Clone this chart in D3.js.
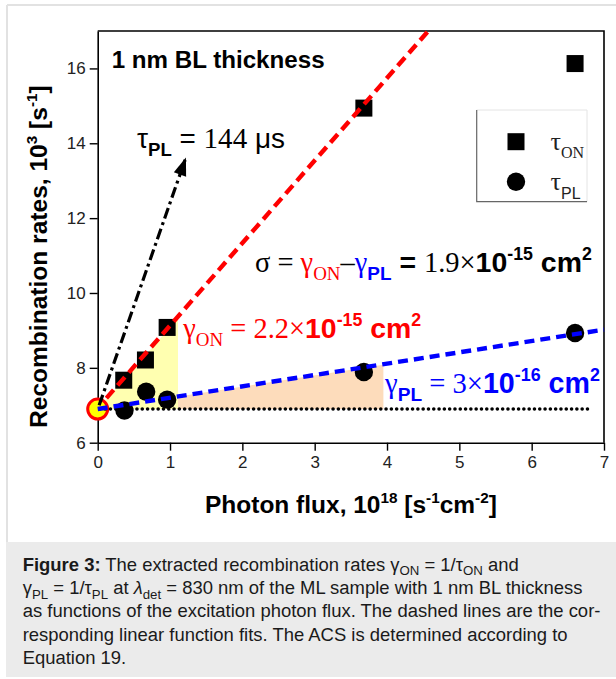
<!DOCTYPE html>
<html><head><meta charset="utf-8">
<script src="https://cdn.jsdelivr.net/npm/d3@7"></script>
<style>html,body{margin:0;padding:0;background:#fff;} svg{display:block}</style>
</head><body>
<svg id="c" width="616" height="679"></svg>
<script>
// ---- data ----
const xTicks = [0, 1, 2, 3, 4, 5, 6, 7];
const yTicks = [6, 8, 10, 12, 14, 16];
const fluxON = [0.36, 0.66, 0.96, 3.68, 6.60];
const rateON = [7.67, 8.21, 9.08, 14.94, 16.13];
const fluxPL = [0.37, 0.67, 0.96, 3.68, 6.60];
const ratePL = [6.86, 7.36, 7.15, 7.89, 8.93];
const originFlux = [0];
const originRate = [6.90];
const fitONx = [0.12, 4.57], fitONy = [7.19, 17.0];
const fitPLx = [0.0, 7.0], fitPLy = [6.90, 9.02];
const tangentX = [0.02, 1.22], tangentY = [7.0, 13.62];
const baseX = [0.03, 6.81], baseY = [6.90, 6.90];
const yellowX = [0, 1.11, 1.11], yellowY = [6.90, 9.32, 6.90];
const peachX = [0, 3.95, 3.95], peachY = [6.90, 8.08, 6.90];

const SANS = "'Liberation Sans', Arial, sans-serif";
const SERIF = "'Liberation Serif', 'Times New Roman', serif";
const RED = "#ff0000", BLUE = "#0000ff";

const svg = d3.select("#c");
const x = d3.scaleLinear([0, 7], [97.7, 604]);
const y = d3.scaleLinear([6, 17], [442.7, 31]);

// page frame & caption box
svg.append("line").attr("x1", 7).attr("y1", 5).attr("x2", 616).attr("y2", 5).attr("stroke", "#e2e2e2").attr("stroke-width", 2);
svg.append("line").attr("x1", 7).attr("y1", 5).attr("x2", 7).attr("y2", 542).attr("stroke", "#e2e2e2").attr("stroke-width", 2);
svg.append("rect").attr("x", 6).attr("y", 542).attr("width", 612).attr("height", 135).attr("fill", "#ebebeb");

const zip = (a, b) => a.map((v, i) => [v, b[i]]);

// fills
svg.append("path").attr("d", d3.line().x(d => x(d[0])).y(d => y(d[1]))(zip(peachX, peachY)) + "Z").attr("fill", "#fddcbb");
svg.append("path").attr("d", d3.line().x(d => x(d[0])).y(d => y(d[1]))(zip(yellowX, yellowY)) + "Z").attr("fill", "#ffffb0");

// axes
const gx = svg.append("g").attr("transform", `translate(0,${y(6)})`)
  .call(d3.axisBottom(x).tickValues(xTicks).tickFormat(d3.format("d")).tickSize(8).tickSizeOuter(0).tickPadding(5));
const gy = svg.append("g").attr("transform", `translate(${x(0)},0)`)
  .call(d3.axisLeft(y).tickValues(yTicks).tickFormat(d3.format("d")).tickSize(8).tickSizeOuter(0).tickPadding(4));
[gx, gy].forEach(g => {
  g.select(".domain").attr("stroke", "#000").attr("stroke-width", 1.6);
  g.selectAll(".tick line").attr("stroke", "#000").attr("stroke-width", 1.4);
  g.selectAll(".tick text").attr("font-family", SANS).attr("font-size", 17).attr("fill", "#222");
});
// frame top/right
svg.append("path").attr("d", `M${x(0)},${y(17)}H${x(7)}V${y(6)}`).attr("fill", "none").attr("stroke", "#000").attr("stroke-width", 1.6);

// markers
svg.append("g").selectAll("rect").data(zip(fluxON, rateON)).join("rect")
  .attr("x", d => x(d[0]) - 8.5).attr("y", d => y(d[1]) - 8.5).attr("width", 17).attr("height", 17).attr("fill", "#000");
svg.append("g").selectAll("circle").data(zip(fluxPL, ratePL)).join("circle")
  .attr("cx", d => x(d[0])).attr("cy", d => y(d[1])).attr("r", 9.2).attr("fill", "#000");
svg.append("g").selectAll("circle").data(zip(originFlux, originRate)).join("circle")
  .attr("cx", d => x(d[0])).attr("cy", d => y(d[1])).attr("r", 10).attr("fill", "#ffff00").attr("stroke", RED).attr("stroke-width", 3);

// lines
const ln = d3.line().x(d => x(d[0])).y(d => y(d[1]));
svg.append("path").attr("d", ln(zip(baseX, baseY))).attr("fill", "none").attr("stroke", "#000")
  .attr("stroke-width", 3.6).attr("stroke-linecap", "round").attr("stroke-dasharray", "0,5.3");
svg.append("path").attr("d", ln(zip(tangentX, tangentY))).attr("fill", "none").attr("stroke", "#000")
  .attr("stroke-width", 3.2).attr("stroke-dasharray", "11,4,3,4");
// arrow head
{
  const x0 = x(tangentX[0]), y0 = y(tangentY[0]), x1 = x(tangentX[1]), y1 = y(tangentY[1]);
  const a = Math.atan2(y1 - y0, x1 - x0), L = 18, W = 6.5;
  const bx = x1 - L * Math.cos(a), by = y1 - L * Math.sin(a);
  const px = -Math.sin(a), py = Math.cos(a);
  svg.append("path").attr("d", `M${x1},${y1}L${bx + W * px},${by + W * py}L${bx - W * px},${by - W * py}Z`).attr("fill", "#000");
}
svg.append("path").attr("d", ln(zip(fitONx, fitONy))).attr("fill", "none").attr("stroke", RED)
  .attr("stroke-width", 4.4).attr("stroke-dasharray", "11,6");
svg.append("path").attr("d", ln(zip(fitPLx, fitPLy))).attr("fill", "none").attr("stroke", BLUE)
  .attr("stroke-width", 4.4).attr("stroke-dasharray", "10,6");

// rich text helper
function rich(parent, px, py, parts, anchor) {
  const t = parent.append("text").attr("x", px).attr("y", py).attr("text-anchor", anchor || "start");
  parts.forEach(p => {
    t.append("tspan").text(p.t).attr("font-family", p.f || SANS).attr("font-size", p.s)
      .attr("font-weight", p.w || "normal").attr("font-style", p.i ? "italic" : "normal")
      .attr("fill", p.c || "#000").attr("data-s", p.s).attr("data-sh", p.sh || 0);
  });
  setDy(t, 1);
  return t;
}
function setDy(t, k) {
  let cur = 0;
  t.selectAll("tspan").each(function () {
    const el = d3.select(this);
    const s = +el.attr("data-s") * k, sh = +el.attr("data-sh") * k;
    el.attr("font-size", s).attr("dy", sh - cur);
    cur = sh;
  });
}
function fit(t, target) {
  const w = t.node().getComputedTextLength();
  setDy(t, target / w);
  return t;
}

// title
fit(rich(svg, 111.7, 67.7, [{ t: "1 nm BL thickness", s: 24, w: "bold", c: "#000" }]), 213);

// axis labels
fit(rich(svg, 205, 513, [
  { t: "Photon flux, 10", s: 24, w: "bold" }, { t: "18", s: 15, w: "bold", sh: -10 },
  { t: " [s", s: 24, w: "bold" }, { t: "-1", s: 15, w: "bold", sh: -10 },
  { t: "cm", s: 24, w: "bold" }, { t: "-2", s: 15, w: "bold", sh: -10 }, { t: "]", s: 24, w: "bold" }
]), 292);
const gyl = svg.append("g").attr("transform", "translate(47,428) rotate(-90)");
fit(rich(gyl, 0, 0, [
  { t: "Recombination rates, 10", s: 24, w: "bold" }, { t: "3", s: 15, w: "bold", sh: -10 },
  { t: " [s", s: 24, w: "bold" }, { t: "-1", s: 15, w: "bold", sh: -10 }, { t: "]", s: 24, w: "bold" }
]), 343);

// annotations
fit(rich(svg, 137, 148, [
  { t: "τ", s: 24 }, { t: "PL", s: 16, w: "bold", sh: 7 }, { t: " = ", s: 24 },
  { t: "144", f: SERIF, s: 25 }, { t: " μs", s: 24 }
]), 148);
fit(rich(svg, 255, 272, [
  { t: "σ = ", f: SERIF, s: 24 }, { t: "γ", f: SERIF, s: 24, c: RED }, { t: "ON", f: SERIF, s: 16, c: RED, sh: 7 },
  { t: "–", f: SERIF, s: 24 }, { t: "γ", f: SERIF, s: 24, c: BLUE }, { t: "PL", s: 16, w: "bold", c: BLUE, sh: 7 },
  { t: " = ", s: 24, w: "bold" }, { t: "1.9×", f: SERIF, s: 24 }, { t: "10", s: 24, w: "bold" },
  { t: "-15", s: 15, w: "bold", sh: -10 }, { t: " cm", s: 24, w: "bold" }, { t: "2", s: 15, w: "bold", sh: -10 }
]), 337);
fit(rich(svg, 183.3, 338, [
  { t: "γ", f: SERIF, s: 24, c: RED }, { t: "ON", f: SERIF, s: 16, c: RED, sh: 7 },
  { t: " = 2.2×", f: SERIF, s: 24, c: RED }, { t: "10", s: 24, w: "bold", c: RED },
  { t: "-15", s: 15, w: "bold", c: RED, sh: -10 }, { t: " cm", s: 24, w: "bold", c: RED }, { t: "2", s: 15, w: "bold", c: RED, sh: -10 }
]), 238);
fit(rich(svg, 385, 393, [
  { t: "γ", f: SERIF, s: 24, c: BLUE }, { t: "PL", s: 16, w: "bold", c: BLUE, sh: 7 },
  { t: " = 3×", f: SERIF, s: 24, c: BLUE }, { t: "10", s: 24, w: "bold", c: BLUE },
  { t: "-16", s: 15, w: "bold", c: BLUE, sh: -10 }, { t: " cm", s: 24, w: "bold", c: BLUE }, { t: "2", s: 15, w: "bold", c: BLUE, sh: -10 }
]), 215);

// legend
const lg = svg.append("g");
lg.append("line").attr("x1", 476.7).attr("y1", 110).attr("x2", 587).attr("y2", 110).attr("stroke", "#e4e4e4");
lg.append("line").attr("x1", 587).attr("y1", 110).attr("x2", 587).attr("y2", 201.7).attr("stroke", "#e4e4e4");
lg.append("path").attr("d", "M476.7,110V201.7H587").attr("fill", "none").attr("stroke", "#666").attr("stroke-width", 1.2);
lg.append("rect").attr("x", 516 - 8.5).attr("y", 141.7 - 8.5).attr("width", 17).attr("height", 17).attr("fill", "#000");
lg.append("circle").attr("cx", 516).attr("cy", 181.7).attr("r", 9.2).attr("fill", "#000");
rich(lg, 550.5, 150, [{ t: "τ", f: SERIF, s: 26, c: "#222" }, { t: "ON", f: SERIF, s: 16, c: "#222", sh: 8 }]);
rich(lg, 550.5, 190, [{ t: "τ", f: SERIF, s: 26, c: "#222" }, { t: "PL", s: 16, c: "#222", sh: 9 }]);

// caption
const cap = svg.append("g");
const C = "#1a1a1a";
const capLines = [
  [{ t: "Figure 3:", s: 16, w: "bold", c: C }, { t: " The extracted recombination rates γ", s: 16, c: C },
   { t: "ON", s: 11.5, c: C, sh: 4 }, { t: " = 1/τ", s: 16, c: C }, { t: "ON", s: 11.5, c: C, sh: 4 }, { t: " and", s: 16, c: C }],
  [{ t: "γ", s: 16, c: C }, { t: "PL", s: 11.5, c: C, sh: 4 }, { t: " = 1/τ", s: 16, c: C }, { t: "PL", s: 11.5, c: C, sh: 4 },
   { t: " at ", s: 16, c: C }, { t: "λ", s: 16, c: C, i: true }, { t: "det", s: 11.5, c: C, sh: 4 },
   { t: " = 830 nm of the ML sample with 1 nm BL thickness", s: 16, c: C }],
  [{ t: "as functions of the excitation photon flux. The dashed lines are the cor-", s: 16, c: C }],
  [{ t: "responding linear function fits. The ACS is determined according to", s: 16, c: C }],
  [{ t: "Equation 19.", s: 16, c: C }]
];
const capBase = [570.7, 594, 617.3, 640.7, 664];
const capTexts = capLines.map((p, i) => rich(cap, 22.7, capBase[i], p));
const kCap = 578 / capTexts[2].node().getComputedTextLength();
capTexts.forEach(t => setDy(t, kCap));
</script>
</body></html>
